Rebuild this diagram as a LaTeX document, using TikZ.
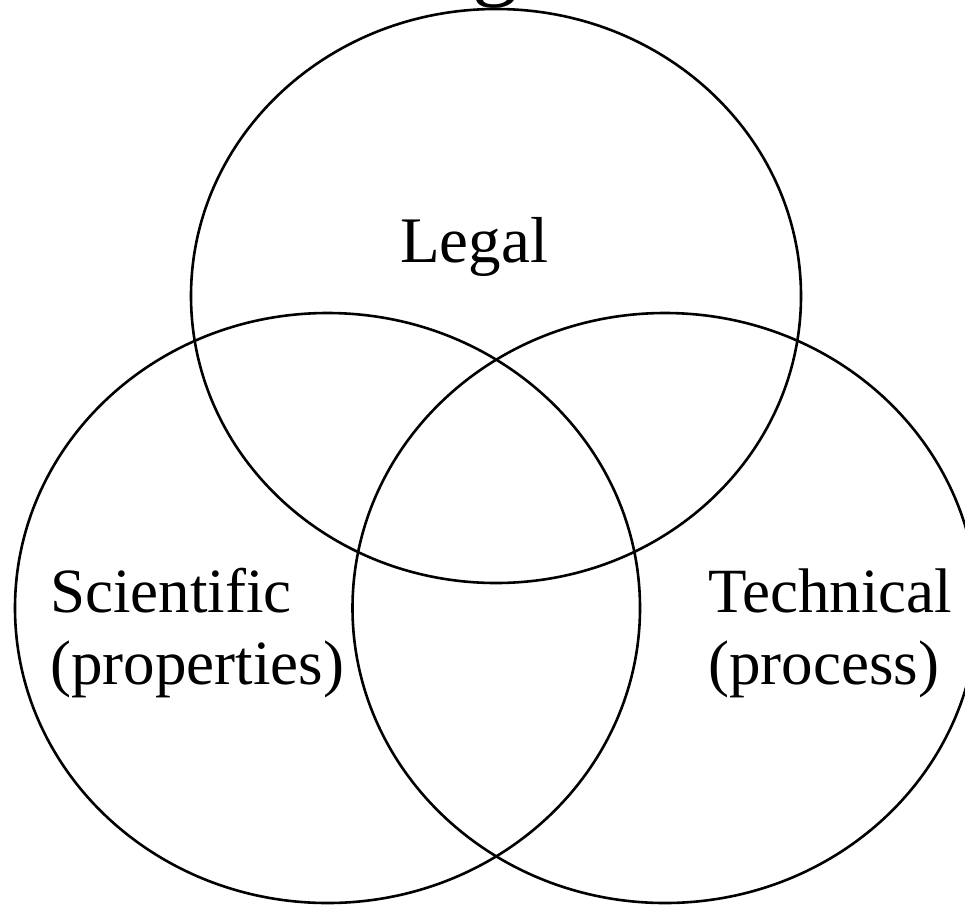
\documentclass[tikz,border=0pt]{standalone}
\usepackage{fontspec}
\setmainfont{Liberation Serif}
\tikzset{
  set/.style={draw=black,line width=2.6},
  lbl/.style={inner sep=0pt,anchor=base west,align=left,font=\fontsize{63}{72}\selectfont}
}
\begin{document}
\begin{tikzpicture}[x=1pt,y=-1pt]
  \useasboundingbox (0,0) rectangle (965,905);
  % title, cut off by the page edge
  \begin{scope}
    \clip (0,0) rectangle (965,905);
    \node[lbl,font=\fontsize{92}{100}\selectfont] (title) at (472,-12) {g};
  \end{scope}

  \draw[set] (496,296) ellipse [x radius=305, y radius=287];
  \draw[set] (327.5,608) ellipse [x radius=312.5, y radius=295];
  \draw[set] (665,608) ellipse [x radius=312.5, y radius=295];

  % base anchor sits on the last line
  \node[lbl,font=\fontsize{65}{72}\selectfont] (legal) at (400,262) {Legal};
  \node[lbl] (sci) at (50,684) {Scientific\\(properties)};
  \node[lbl] (tech) at (708,684) {Technical\\(process)};
\end{tikzpicture}
\end{document}
